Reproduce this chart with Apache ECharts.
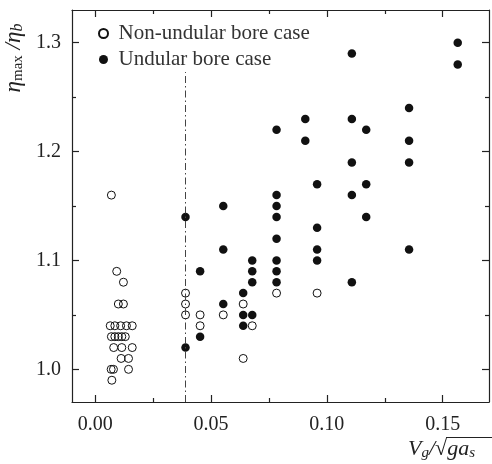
<!DOCTYPE html>
<html>
<head>
<meta charset="utf-8">
<script src="https://cdn.jsdelivr.net/npm/echarts@6/dist/echarts.min.js"></script>
<style>
  html, body { margin: 0; padding: 0; background: #fff; }
  #chart { width: 492px; height: 464px; }
</style>
</head>
<body>
<div id="chart"></div>
<script>
// open circles
const nonUndularX = [
  0.007, 0.0093, 0.0122, 0.010, 0.0122,
  0.0065, 0.0085, 0.011, 0.0135, 0.016,
  0.007, 0.0085, 0.010, 0.0115, 0.013,
  0.008, 0.0115, 0.016,
  0.0112, 0.0144,
  0.0069, 0.0079, 0.0144,
  0.0072,
  0.039, 0.039, 0.039,
  0.0453, 0.0453,
  0.0553,
  0.0639, 0.0639,
  0.0678,
  0.0783,
  0.0958
];
const nonUndularY = [
  1.16, 1.09, 1.08, 1.06, 1.06,
  1.04, 1.04, 1.04, 1.04, 1.04,
  1.03, 1.03, 1.03, 1.03, 1.03,
  1.02, 1.02, 1.02,
  1.01, 1.01,
  1.00, 1.00, 1.00,
  0.99,
  1.07, 1.06, 1.05,
  1.05, 1.04,
  1.05,
  1.06, 1.01,
  1.04,
  1.07,
  1.07
];
// filled circles
const undularX = [
  0.039, 0.039,
  0.0453, 0.0453,
  0.0553, 0.0553, 0.0553,
  0.0639, 0.0639, 0.0639,
  0.0678, 0.0678, 0.0678, 0.0678,
  0.0783, 0.0783, 0.0783, 0.0783, 0.0783, 0.0783, 0.0783, 0.0783,
  0.0907, 0.0907,
  0.0958, 0.0958, 0.0958, 0.0958,
  0.1108, 0.1108, 0.1108, 0.1108, 0.1108,
  0.117, 0.117, 0.117,
  0.1355, 0.1355, 0.1355, 0.1355,
  0.1565, 0.1565
];
const undularY = [
  1.14, 1.02,
  1.09, 1.03,
  1.15, 1.11, 1.06,
  1.07, 1.05, 1.04,
  1.10, 1.09, 1.08, 1.05,
  1.22, 1.16, 1.15, 1.14, 1.12, 1.10, 1.09, 1.08,
  1.23, 1.21,
  1.17, 1.13, 1.11, 1.10,
  1.29, 1.23, 1.19, 1.16, 1.08,
  1.22, 1.17, 1.14,
  1.24, 1.21, 1.19, 1.11,
  1.30, 1.28
];
const xTicks = [0, 0.05, 0.10, 0.15];
const xMinorTicks = [0.025, 0.075, 0.125];
const yTicks = [1.0, 1.1, 1.2, 1.3];
const yMinorTicks = [1.05, 1.15, 1.25];
const boundaryX = 0.039;
const boundaryTop = 1.273;

const FONT = 'Liberation Serif';
const INK = '#222';
const xRange = { min: -0.01, max: 0.17 };
const yRange = { min: 0.97, max: 1.33 };

function xAxisOf(position, ticks, len, labels, line) {
  return {
    type: 'value', position: position, min: xRange.min, max: xRange.max,
    axisLine: { show: line, onZero: false, lineStyle: { color: INK, width: 1.2 } },
    axisTick: { show: true, inside: true, length: len, customValues: ticks, lineStyle: { color: INK, width: 1.2 } },
    axisLabel: {
      show: labels, customValues: ticks, margin: 13,
      fontFamily: FONT, fontSize: 20, color: INK,
      formatter: v => v.toFixed(2)
    },
    splitLine: { show: false }
  };
}
function yAxisOf(position, ticks, len, labels, line) {
  return {
    type: 'value', position: position, min: yRange.min, max: yRange.max,
    axisLine: { show: line, onZero: false, lineStyle: { color: INK, width: 1.2 } },
    axisTick: { show: true, inside: true, length: len, customValues: ticks, lineStyle: { color: INK, width: 1.2 } },
    axisLabel: {
      show: labels, customValues: ticks, margin: 11,
      fontFamily: FONT, fontSize: 20, color: INK,
      formatter: v => v.toFixed(1)
    },
    splitLine: { show: false }
  };
}

const toPairs = (xs, ys) => xs.map((x, i) => [x, ys[i]]);

const chart = echarts.init(document.getElementById('chart'), null, { renderer: 'canvas' });
chart.setOption({
  animation: false,
  backgroundColor: '#fff',
  grid: { left: 72, right: 3, top: 10, bottom: 62 },
  xAxis: [
    xAxisOf('bottom', xTicks, 7, true, true),
    xAxisOf('top', xTicks, 7, false, true),
    xAxisOf('bottom', xMinorTicks, 4, false, false),
    xAxisOf('top', xMinorTicks, 4, false, false)
  ],
  yAxis: [
    yAxisOf('left', yTicks, 7, true, true),
    yAxisOf('right', yTicks, 7, false, true),
    yAxisOf('left', yMinorTicks, 4, false, false),
    yAxisOf('right', yMinorTicks, 4, false, false)
  ],
  legend: {
    orient: 'vertical', left: 93, top: 18,
    itemWidth: 20, itemHeight: 9, itemGap: 5,
    textStyle: { fontFamily: FONT, fontSize: 21, color: '#333', lineHeight: 21 },
    data: ['Non-undular bore case', 'Undular bore case']
  },
  series: [
    {
      name: 'Non-undular bore case', type: 'scatter',
      symbol: 'circle', symbolSize: 8,
      itemStyle: { color: 'rgba(255,255,255,0)', borderColor: '#111', borderWidth: 1, opacity: 1 },
      data: toPairs(nonUndularX, nonUndularY),
      markLine: {
        silent: true, symbol: 'none', label: { show: false },
        lineStyle: { color: '#444', width: 1, type: [7, 3, 1.5, 3] },
        data: [[{ coord: [boundaryX, yRange.min] }, { coord: [boundaryX, boundaryTop] }]]
      }
    },
    {
      name: 'Undular bore case', type: 'scatter',
      symbol: 'circle', symbolSize: 8.5,
      itemStyle: { color: '#111', opacity: 1 },
      data: toPairs(undularX, undularY)
    }
  ],
  graphic: [
    {
      type: 'text', x: 14, y: 58, rotation: Math.PI / 2,
      style: {
        text: '{e|η}{s|max}{e| /η}{s2|b}',
        align: 'center', verticalAlign: 'middle',
        fill: INK, fontFamily: FONT,
        rich: {
          e: { fontFamily: FONT, fontStyle: 'italic', fontSize: 23, lineHeight: 24, fill: INK },
          s: { fontFamily: FONT, fontSize: 15, lineHeight: 8, verticalAlign: 'bottom', fill: INK },
          s2: { fontFamily: FONT, fontStyle: 'italic', fontSize: 16, lineHeight: 8, verticalAlign: 'bottom', fill: INK }
        }
      }
    },
    {
      type: 'text', x: 408, y: 449,
      style: {
        text: '{e|V}{s|g}{e|/√ga}{s|s}',
        align: 'left', verticalAlign: 'middle',
        fill: INK, fontFamily: FONT,
        rich: {
          e: { fontFamily: FONT, fontStyle: 'italic', fontSize: 22, lineHeight: 24, fill: INK },
          s: { fontFamily: FONT, fontStyle: 'italic', fontSize: 15, lineHeight: 8, verticalAlign: 'bottom', fill: INK }
        }
      }
    },
    {
      type: 'line', shape: { x1: 446, y1: 437.5, x2: 492, y2: 437.5 },
      style: { stroke: INK, lineWidth: 1 }
    }
  ]
});
</script>
</body>
</html>
